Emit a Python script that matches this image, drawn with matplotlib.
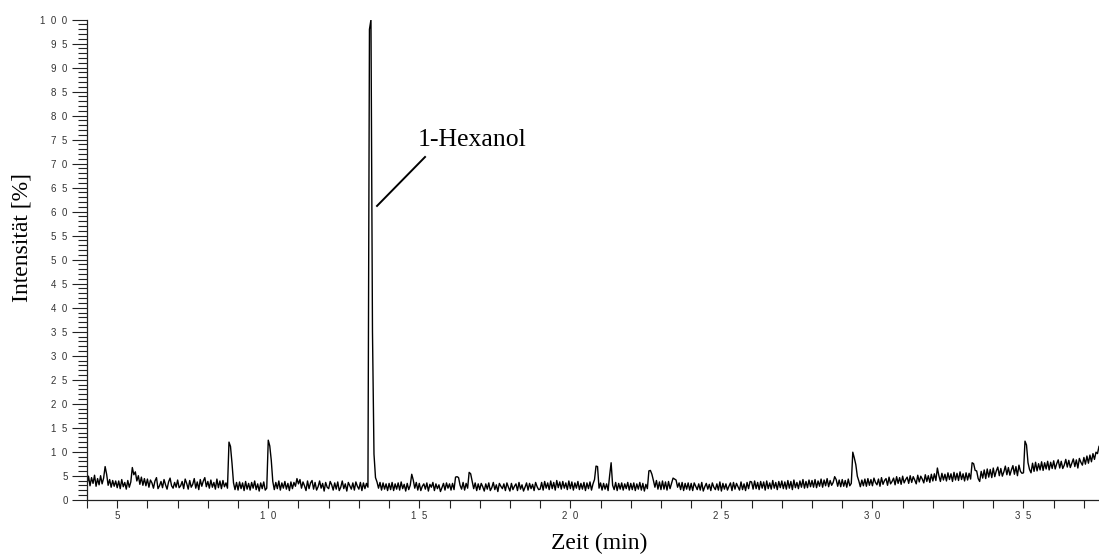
import numpy as np
import matplotlib
matplotlib.use("Agg")
import matplotlib.pyplot as plt
from matplotlib.ticker import MultipleLocator, FuncFormatter

# chromatogram trace, one row per minute, sampled every 0.05 min from 4.00 min
start_min = 4.0
step_min = 0.05
intensity_rows = [
    [3.2, 4.9, 2.9, 4.6, 3.4, 5.1, 2.8, 4.4, 3.1, 5.0, 3.3, 4.5, 6.9, 5.3, 3.0, 4.2, 2.6, 4.0, 2.8, 3.9],
    [2.5, 3.9, 2.3, 4.2, 2.7, 3.6, 2.2, 4.0, 2.6, 3.7, 6.7, 5.2, 5.8, 3.9, 5.0, 3.2, 4.7, 3.0, 4.4, 2.9],
    [4.3, 2.6, 4.1, 3.5, 2.4, 3.9, 4.6, 2.3, 2.9, 3.8, 2.5, 4.2, 3.1, 2.2, 3.7, 4.5, 2.9, 2.4, 3.6, 2.6],
    [4.1, 2.5, 2.9, 3.8, 2.3, 4.3, 3.4, 2.2, 4.0, 2.6, 3.2, 4.4, 2.4, 3.7, 2.1, 4.2, 2.8, 3.9, 4.6, 2.7],
    [3.8, 2.4, 4.1, 2.6, 3.6, 2.2, 4.3, 2.5, 3.9, 2.3, 4.0, 2.7, 3.5, 2.4, 12.0, 11.1, 7.6, 3.5, 2.1, 3.6],
    [2.0, 3.7, 2.3, 3.5, 1.9, 3.8, 2.2, 3.4, 2.0, 3.6, 2.4, 3.9, 2.1, 3.3, 1.8, 3.5, 2.3, 3.7, 2.0, 2.4],
    [12.4, 11.2, 8.2, 3.8, 2.1, 3.6, 2.3, 3.9, 2.0, 3.5, 2.4, 3.8, 2.2, 3.4, 1.9, 3.7, 2.3, 3.6, 2.8, 4.4],
    [3.3, 4.2, 2.4, 3.7, 2.9, 1.9, 3.9, 2.3, 3.5, 4.0, 2.2, 3.6, 2.0, 2.7, 3.9, 2.4, 3.4, 1.8, 3.6, 2.6],
    [2.3, 3.8, 3.1, 2.0, 3.5, 2.2, 3.7, 1.9, 2.6, 3.9, 2.3, 3.3, 1.8, 3.6, 2.9, 2.2, 3.5, 2.0, 3.7, 2.8],
    [2.2, 3.6, 1.9, 3.5, 2.3, 3.4, 2.6, 98.0, 100.0, 35.0, 9.5, 4.6, 3.7, 2.4, 3.6, 2.0, 3.5, 2.2, 3.3, 1.9],
    [3.4, 2.1, 3.6, 1.9, 3.3, 2.2, 3.5, 2.0, 3.7, 2.3, 3.2, 1.8, 3.4, 2.1, 3.0, 5.3, 4.1, 2.4, 3.6, 2.0],
    [3.4, 1.9, 2.8, 3.3, 2.2, 3.5, 1.8, 3.2, 2.6, 3.6, 1.9, 3.3, 2.3, 3.1, 1.7, 2.5, 3.4, 2.0, 3.5, 2.4],
    [3.3, 2.0, 3.4, 2.1, 4.7, 4.8, 4.6, 3.0, 2.2, 3.6, 2.0, 3.4, 2.4, 5.7, 5.4, 3.8, 2.3, 3.5, 1.9, 3.3],
    [2.1, 3.4, 2.7, 1.8, 3.3, 2.2, 3.5, 1.9, 2.5, 3.6, 2.1, 3.1, 1.7, 3.4, 2.8, 2.3, 3.3, 1.9, 3.5, 2.6],
    [1.8, 3.4, 2.1, 2.8, 3.3, 1.9, 3.6, 2.2, 3.1, 1.8, 2.6, 3.5, 2.0, 3.4, 2.3, 3.2, 1.9, 3.6, 2.7, 2.1],
    [2.2, 3.6, 2.0, 3.8, 2.4, 3.5, 2.1, 3.9, 2.3, 3.6, 2.0, 4.0, 2.5, 3.7, 2.2, 3.8, 2.4, 3.5, 2.1, 3.9],
    [2.3, 3.7, 2.0, 3.5, 2.4, 3.8, 2.1, 3.4, 2.2, 3.6, 1.9, 3.5, 2.3, 3.7, 2.0, 3.3, 4.2, 7.0, 6.9, 2.4],
    [3.5, 2.0, 3.4, 2.2, 3.3, 1.9, 5.0, 7.7, 3.0, 2.1, 3.6, 1.9, 3.4, 2.2, 3.5, 2.0, 3.3, 2.3, 3.6, 2.0],
    [3.4, 2.1, 3.5, 1.9, 3.3, 2.2, 3.6, 2.0, 3.4, 1.8, 3.2, 2.3, 6.0, 6.1, 5.3, 4.0, 2.6, 4.0, 2.2, 3.7],
    [2.1, 3.9, 2.2, 3.7, 2.0, 3.8, 2.3, 3.4, 4.5, 4.3, 4.1, 2.6, 3.5, 2.1, 3.6, 1.9, 3.4, 2.2, 3.5, 2.0],
    [3.4, 1.9, 3.5, 2.8, 2.1, 3.3, 2.0, 3.6, 1.8, 2.7, 3.4, 2.2, 3.2, 1.9, 3.5, 2.6, 2.1, 3.3, 2.0, 3.7],
    [1.8, 3.4, 2.2, 3.3, 2.0, 2.8, 3.5, 1.9, 3.6, 2.2, 3.4, 2.7, 2.0, 3.7, 2.1, 3.3, 1.9, 3.6, 2.3, 3.8],
    [3.7, 2.2, 3.9, 2.3, 3.6, 2.1, 3.8, 2.4, 3.7, 2.0, 3.9, 2.3, 3.5, 2.2, 4.0, 2.4, 3.6, 2.1, 3.8, 2.5],
    [3.9, 2.3, 3.7, 2.2, 4.0, 2.4, 3.8, 2.1, 4.1, 2.5, 3.6, 2.3, 3.9, 2.6, 4.2, 2.4, 3.8, 2.5, 4.1, 2.7],
    [4.0, 2.6, 4.2, 2.5, 3.9, 2.8, 4.3, 2.6, 4.1, 2.9, 4.4, 2.7, 4.0, 3.0, 3.6, 4.8, 4.2, 2.8, 4.1, 2.7],
    [4.2, 2.8, 4.0, 2.6, 4.3, 2.9, 3.4, 9.9, 8.7, 7.3, 4.9, 3.9, 2.7, 4.1, 2.9, 4.3, 2.8, 4.4, 3.0, 4.2],
    [2.9, 4.5, 3.6, 3.1, 4.3, 2.8, 4.6, 3.2, 4.0, 4.4, 3.0, 4.7, 3.3, 3.8, 4.5, 3.1, 4.8, 3.4, 4.6, 3.2],
    [4.9, 3.5, 4.2, 4.7, 3.4, 5.0, 3.6, 4.8, 4.1, 3.3, 5.1, 3.7, 4.9, 4.3, 3.5, 5.2, 3.8, 5.0, 3.6, 5.3],
    [3.9, 5.4, 4.0, 6.6, 5.0, 3.8, 5.5, 4.1, 5.3, 3.9, 5.6, 4.2, 5.4, 3.8, 5.7, 4.1, 5.5, 4.0, 5.8, 4.2],
    [5.4, 3.9, 5.6, 4.1, 5.5, 4.3, 7.7, 7.5, 6.1, 6.0, 4.4, 3.8, 5.9, 4.5, 6.2, 4.4, 6.4, 4.7, 6.3, 4.6],
    [6.6, 4.8, 6.0, 6.8, 5.0, 6.5, 4.9, 5.8, 7.0, 5.2, 6.7, 5.1, 6.2, 7.1, 5.3, 6.9, 5.0, 7.2, 5.9, 5.5],
    [5.6, 12.2, 11.4, 7.7, 6.3, 5.6, 7.6, 5.9, 7.8, 6.0, 7.5, 6.2, 7.9, 6.1, 7.7, 6.4, 8.0, 6.2, 7.8, 6.5],
    [8.1, 6.4, 7.5, 8.3, 6.6, 8.0, 6.5, 7.2, 8.4, 6.8, 8.2, 6.7, 7.6, 8.5, 6.9, 8.3, 6.6, 8.6, 7.8, 7.2],
    [8.8, 7.4, 9.1, 7.6, 9.3, 7.9, 9.6, 8.4, 9.9, 9.6, 11.1],
]

peak_label = "1-Hexanol"
label_pos = (14.96, 73.7)
label_line = ([15.19, 13.60], [71.4, 61.2])

x_range = (4.0, 37.5)
y_range = (0, 100)

intensity = np.concatenate([np.array(r) for r in intensity_rows])
time = start_min + step_min * np.arange(len(intensity))


def spaced(v, pos):
    # digits of the tick labels are spread out
    return "  ".join(str(int(round(v))))


fig = plt.figure(figsize=(10.99, 5.54), dpi=100)
ax = fig.add_axes([87 / 1099, 1 - 499.7 / 554, 1 - 87 / 1099, (499.7 - 19.7) / 554])

ax.plot(time, intensity, color="black", lw=1.0)
ax.plot(label_line[0], label_line[1], color="black", lw=1.4)
ax.text(label_pos[0], label_pos[1], peak_label, family="Liberation Serif",
        fontsize=18.5, ha="left", va="baseline")

ax.set_xlim(*x_range)
ax.set_ylim(*y_range)

for side in ["top", "right"]:
    ax.spines[side].set_visible(False)
for side in ["left", "bottom"]:
    ax.spines[side].set_linewidth(0.9)
    ax.spines[side].set_color("#222222")

ax.xaxis.set_major_locator(MultipleLocator(5))
ax.xaxis.set_minor_locator(MultipleLocator(1))
ax.yaxis.set_major_locator(MultipleLocator(5))
ax.yaxis.set_minor_locator(MultipleLocator(1))
ax.xaxis.set_major_formatter(FuncFormatter(spaced))
ax.yaxis.set_major_formatter(FuncFormatter(spaced))

ax.tick_params(axis="x", which="both", direction="out", length=5.8, width=0.8,
               color="#222222", pad=2.5)
ax.tick_params(axis="y", which="major", direction="out", length=10.5, width=0.8,
               color="#222222", pad=3.5)
ax.tick_params(axis="y", which="minor", direction="out", length=6.5, width=0.8,
               color="#222222")
for lab in ax.get_xticklabels() + ax.get_yticklabels():
    lab.set_family("Liberation Sans")
    lab.set_fontsize(7)
    lab.set_color("#333333")

fig.text(599 / 1099, 1 - 543 / 554, "Zeit (min)", family="Liberation Serif",
         fontsize=17, ha="center", va="center")
fig.text(22 / 1099, 1 - 238 / 554, "Intensität [%]", family="Liberation Serif",
         fontsize=17, ha="center", va="center", rotation=90)

fig.savefig("out.png", dpi=100)
